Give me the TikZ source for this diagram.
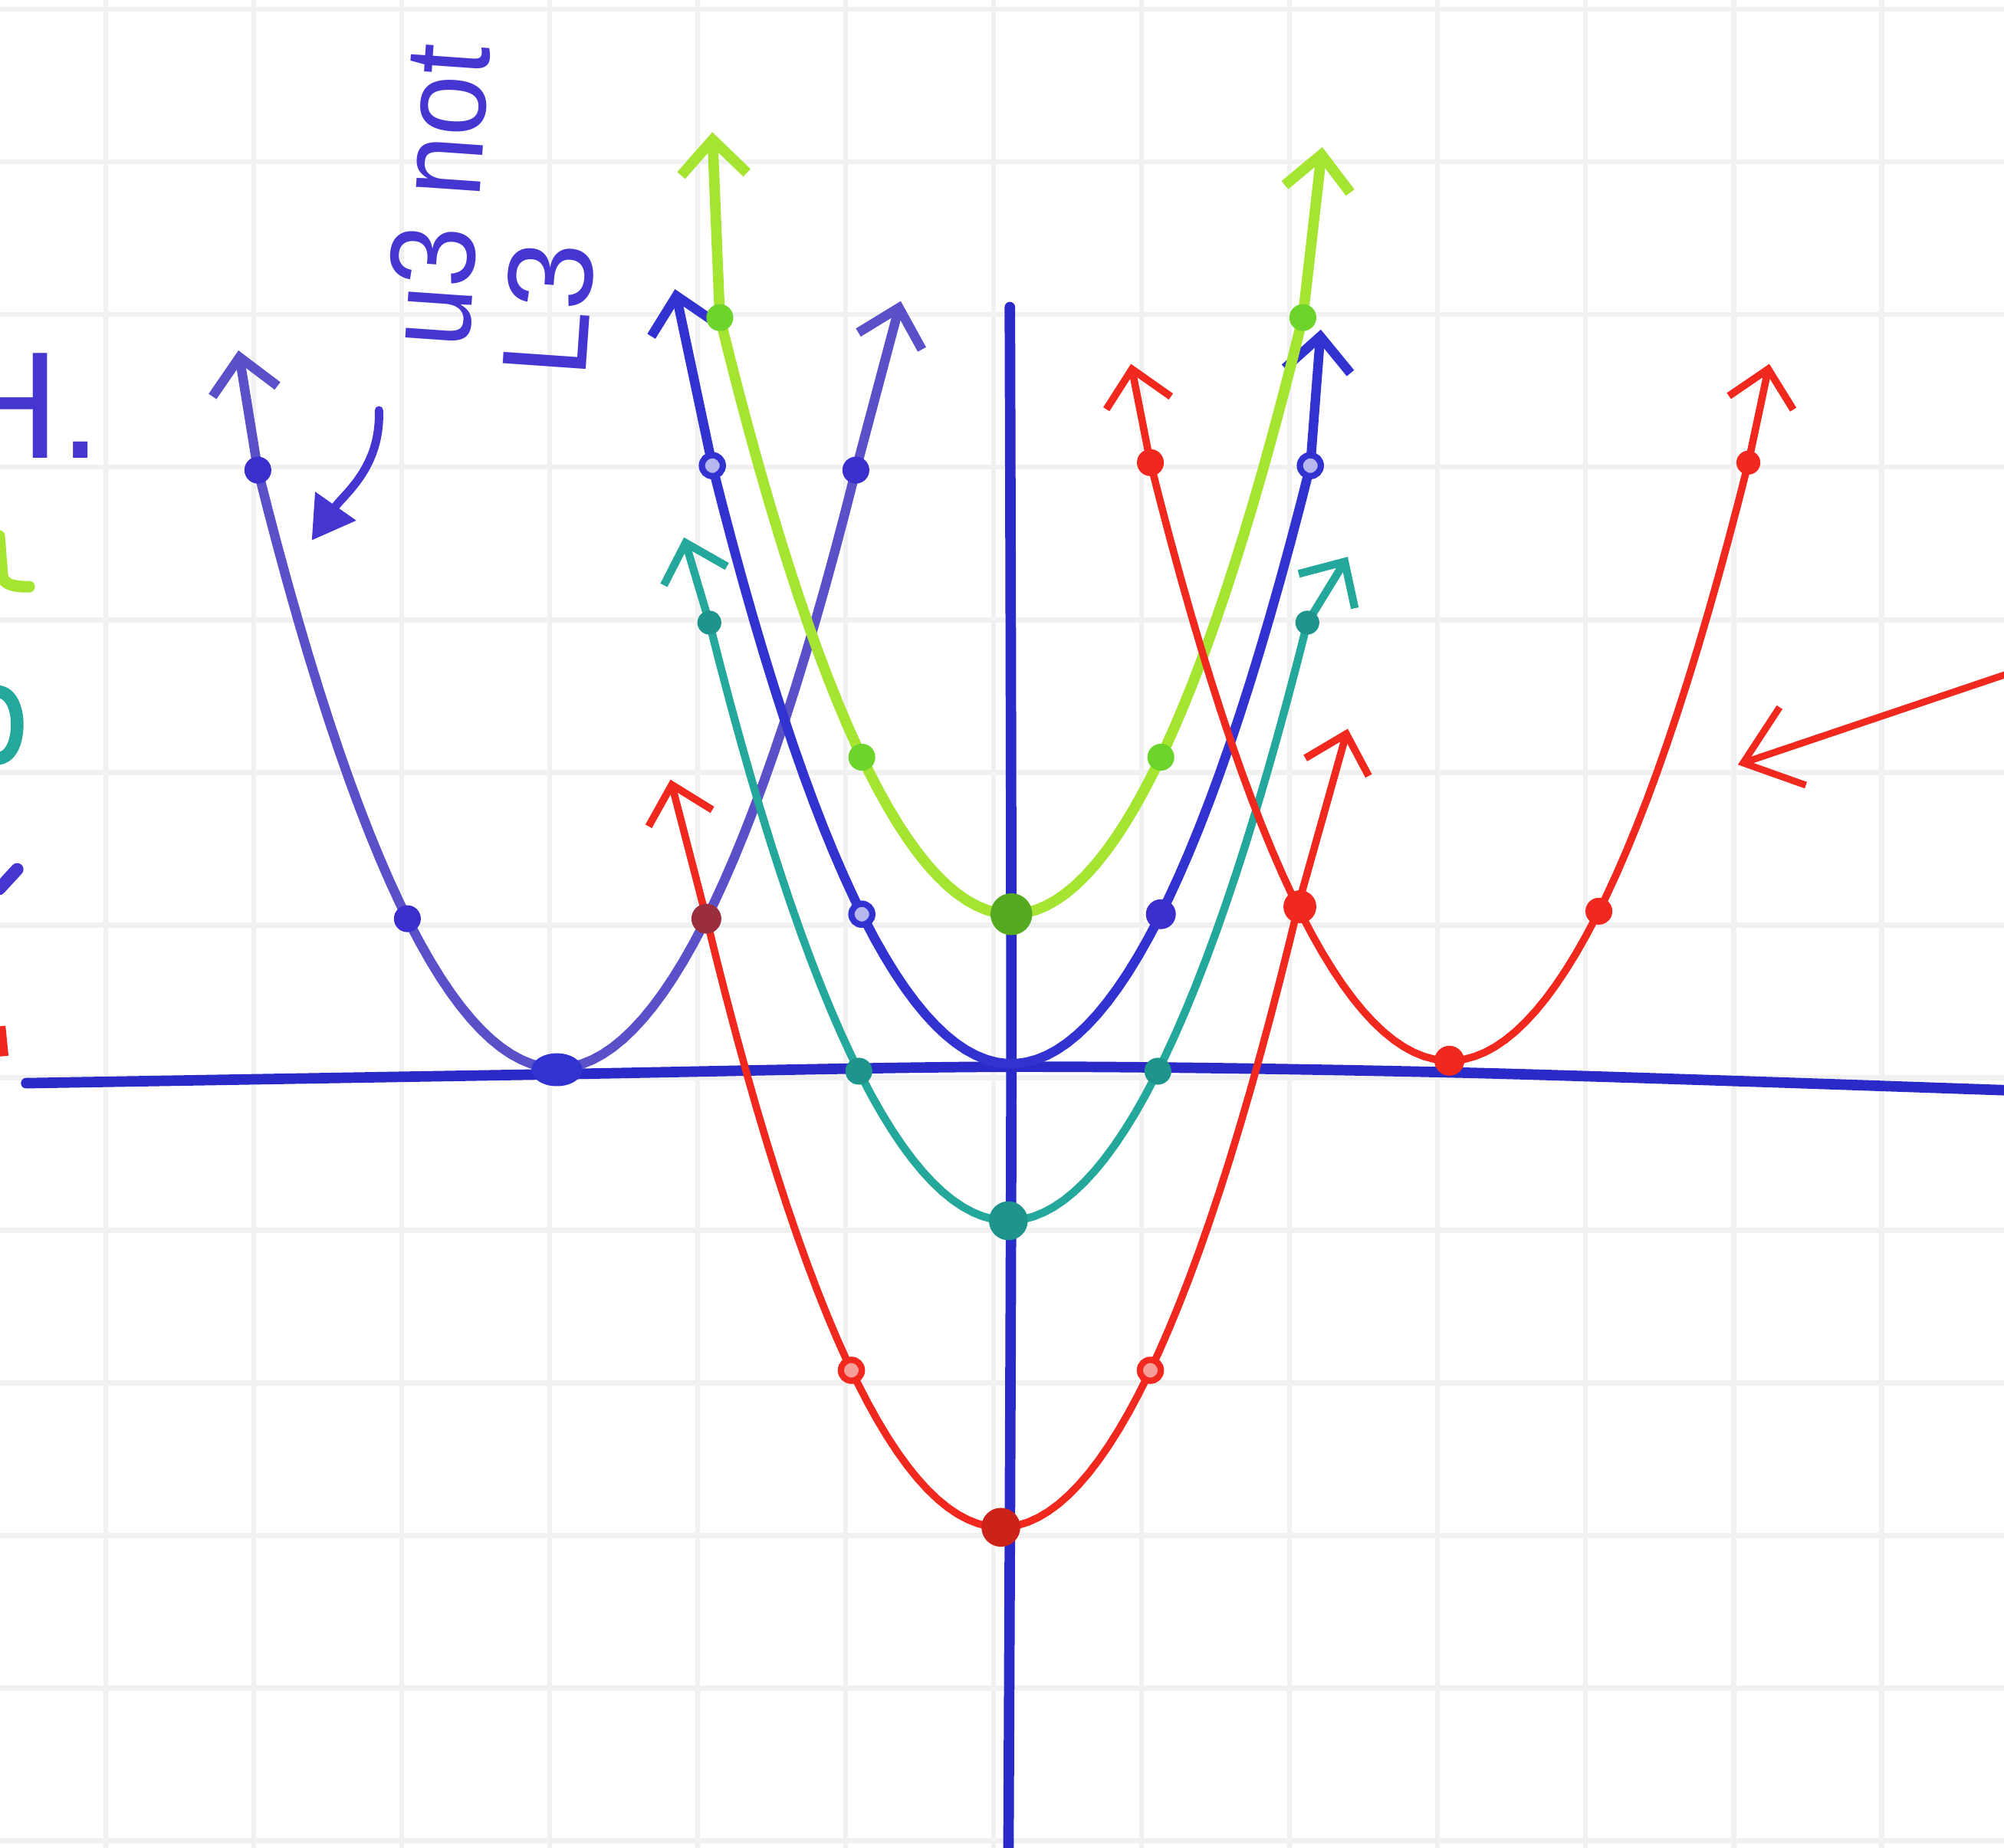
\documentclass[tikz,border=0pt]{standalone}
\usepackage{fontspec}
\usepackage{graphicx}
\setmainfont{Liberation Sans}
\usetikzlibrary{arrows.meta}
\definecolor{axisblue}{HTML}{2A2AC8}
\definecolor{bluel}{HTML}{5A50C8}
\definecolor{bluec}{HTML}{3232D0}
\definecolor{bluedot}{HTML}{3A2ECC}
\definecolor{limec}{HTML}{A6E432}
\definecolor{limedot}{HTML}{6CD42A}
\definecolor{tealc}{HTML}{24A89C}
\definecolor{tealdot}{HTML}{1E948C}
\definecolor{redc}{HTML}{F0281E}
\definecolor{gridc}{HTML}{F1F1F1}
\definecolor{inkblue}{HTML}{4536D2}
\definecolor{maroondot}{HTML}{9A2E3C}
\tikzset{
  gridline/.style={draw=gridc, line width=1pt},
  axisline/.style={draw=axisblue, line width=2pt, line cap=round},
  pcurve/.style={line width=#1, line cap=round, line join=round},
  tips/.style={{Straight Barb[length=2.3mm,width=4.4mm]}-{Straight Barb[length=2.3mm,width=4.4mm]}},
  hollow/.style={line width=1.2pt},
  note/.style={text=inkblue, inner sep=0pt, anchor=base west},
}
\begin{document}
\begin{tikzpicture}
\useasboundingbox (-6.795,-5.210) rectangle (6.610,7.144);
\clip (-6.795,-5.210) rectangle (6.610,7.144);
\fill[white] (-6.795,-5.210) rectangle (6.610,7.144);
% grid paper
\foreach \k in {0,...,12}
  \draw[gridline] ({(138+193*\k-1325)/195},-5.4) -- ({(138+193*\k-1325)/195},7.3);
\foreach \k in {-9,...,3}
  \draw[gridline] (-6.9,{(1393-1803-199*\k)/195}) -- (6.7,{(1393-1803-199*\k)/195});
% axes
\draw[axisline] plot[smooth] coordinates {(-6.62,-0.10) (-3.07,-0.04) (0,0.01) (3,-0.03) (6.7,-0.15)};
\draw[axisline] plot[smooth] coordinates {(-0.04,5.09) (-0.03,0) (-0.05,-5.4)};
% parabolas
\draw[pcurve=1.8pt, draw=bluel, tips] (-5.20,4.80) -- plot[domain=-5.07:-1.07,samples=60] (\x,{(\x+3.07)^2}) -- (-0.77,5.13);
\draw[pcurve=1.8pt, draw=bluec, tips] (-2.28,5.21) -- plot[domain=-2.03:1.97,samples=60] (\x,{(\x+0.03)^2+0.03}) -- (2.04,4.94);
\draw[pcurve=2pt, draw=limec, tips] (-2.03,6.26) -- plot[domain=-1.98:1.92,samples=60] (\x,{1.05*(\x+0.03)^2+1.03}) -- (2.05,6.16);
\draw[pcurve=1.5pt, draw=tealc, tips] (-2.22,3.55) -- plot[domain=-2.05:1.95,samples=60] (\x,{(\x+0.05)^2-1.02}) -- (2.22,3.42);
\draw[pcurve=1.4pt, draw=redc, tips] (-2.31,1.93) -- plot[domain=-2.07:1.9,samples=60] (\x,{1.05*(\x+0.1)^2-3.07}) -- (2.22,2.27);
\draw[pcurve=1.4pt, draw=redc, tips] (0.77,4.71) -- plot[domain=0.9:4.9,samples=60] (\x,{(\x-2.9)^2+0.05}) -- (5.04,4.71);
% dots: blue left
\fill[bluedot] (-5.07,4) circle (0.09);
\fill[bluedot] (-4.07,1) circle (0.09);
\fill[bluec] (-3.07,-0.01) ellipse (0.17 and 0.11);
\fill[maroondot] (-2.07,1) circle (0.1);
\fill[bluedot] (-1.07,4) circle (0.09);
% blue centre
\filldraw[hollow, draw=bluec, fill=bluec!35] (-2.03,4.03) circle (0.07);
\filldraw[hollow, draw=bluec, fill=bluec!35] (-1.03,1.03) circle (0.07);
\fill[bluedot] (0.97,1.03) circle (0.1);
\filldraw[hollow, draw=bluec, fill=bluec!35] (1.97,4.03) circle (0.07);
% lime
\fill[limedot] (-1.98,5.02) circle (0.09);
\fill[limedot] (-1.03,2.08) circle (0.09);
\fill[limedot!80!black] (-0.03,1.03) circle (0.14);
\fill[limedot] (0.97,2.08) circle (0.09);
\fill[limedot] (1.92,5.02) circle (0.09);
% teal
\fill[tealdot] (-2.05,2.98) circle (0.08);
\fill[tealdot] (-1.05,-0.02) circle (0.09);
\fill[tealdot] (-0.05,-1.02) circle (0.13);
\fill[tealdot] (0.95,-0.02) circle (0.09);
\fill[tealdot] (1.95,2.98) circle (0.08);
% red centre
\filldraw[hollow, draw=redc, fill=redc!45] (-1.1,-2.02) circle (0.07);
\fill[redc!85!black] (-0.1,-3.07) circle (0.13);
\filldraw[hollow, draw=redc, fill=redc!45] (0.9,-2.02) circle (0.07);
% red right
\fill[redc] (0.9,4.05) circle (0.09);
\fill[redc] (1.9,1.08) circle (0.11);
\fill[redc] (2.9,0.05) circle (0.1);
\fill[redc] (3.9,1.05) circle (0.09);
\fill[redc] (4.9,4.05) circle (0.08);
% pointer arrows
\draw[redc, line width=1.3pt, line cap=round, -{Straight Barb[length=3.5mm,width=5.5mm]}] (6.7,2.66) -- (4.83,2.03);
\draw[inkblue, line width=1.6pt, line cap=round, -{Triangle[length=2.8mm,width=3.2mm]}] (-4.26,4.40) to[out=-88,in=55] (-4.71,3.53);
% notes
\node[note, font=\fontsize{29}{30}\selectfont] (hlabel) at (-7.14,4.08) {H.};
\node[note, rotate=86, font=\fontsize{23}{25}\selectfont] (noteone) at (-3.66,4.80) {\scalebox{0.9}[1]{u3 not}};
\node[note, rotate=86, font=\fontsize{23}{25}\selectfont] (notetwo) at (-2.88,4.60) {L3};
% cut-off marks at the left edge
\draw[limec, line width=2.2pt, line cap=round] (-6.80,3.56) -- (-6.78,3.30) to[out=-85,in=180] (-6.60,3.22);
\draw[tealc, line width=2.4pt] (-6.82,2.52) to[out=0,in=90] (-6.68,2.30) to[out=-90,in=0] (-6.82,2.07);
\draw[inkblue, line width=2.4pt, line cap=round] (-6.80,1.20) -- (-6.68,1.33);
\draw[redc, line width=2.4pt] (-6.80,0.28) -- (-6.78,0.08);
\end{tikzpicture}
\end{document}
